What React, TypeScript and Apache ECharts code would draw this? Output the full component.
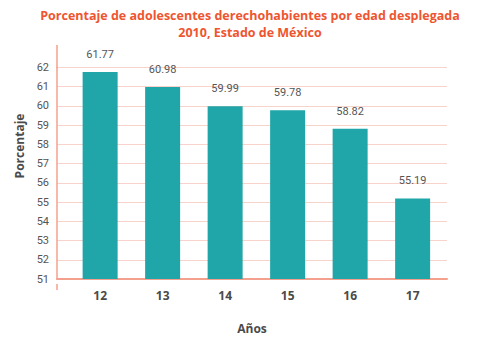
import React, { useEffect, useRef } from "react";
import * as echarts from "echarts";

const ages = [12, 13, 14, 15, 16, 17];
const percentages = [61.77, 60.98, 59.99, 59.78, 58.82, 55.19];
const titleLines = [
  "Porcentaje de adolescentes derechohabientes por edad desplegada",
  "2010, Estado de México",
];
const xName = "Años";
const yName = "Porcentaje";

export default function App() {
  const ref = useRef<HTMLDivElement>(null);
  useEffect(() => {
    if (!ref.current) return;
    const chart = echarts.init(ref.current, null, { renderer: "svg" });
    const axisColor = "#F4A08E";
    const gridColor = "#F8D3CB";
    const textFont = "Roboto";
    const titleStyle = {
      color: "#EE5530",
      fontFamily: "Open Sans",
      fontWeight: "bold",
      fontSize: 12.5,
      lineHeight: 14,
    };
    chart.setOption({
      animation: false,
      backgroundColor: "#ffffff",
      title: titleLines.map((t, i) => ({
        text: t,
        left: 250,
        top: 8 + i * 17,
        padding: 0,
        textAlign: "center",
        textStyle: titleStyle,
      })),
      grid: { left: 57, right: 35, top: 67.5, bottom: 55 },
      xAxis: {
        type: "value",
        min: 11.31,
        max: 17.55,
        splitNumber: 6,
        name: xName,
        nameLocation: "middle",
        nameGap: 43,
        nameTextStyle: {
          color: "#4a4a4a",
          fontFamily: "Open Sans",
          fontWeight: "bold",
          fontSize: 12,
        },
        axisLine: { show: true, lineStyle: { color: axisColor, width: 2 } },
        axisTick: { show: false },
        splitLine: { show: false },
        axisLabel: {
          color: "#4a4a4a",
          fontFamily: "Open Sans",
          fontWeight: "bold",
          fontSize: 12,
          margin: 10,
          formatter: (v: number) => (Number.isInteger(v) ? String(v) : ""),
        },
      },
      yAxis: {
        type: "value",
        min: 51,
        max: 62,
        interval: 1,
        axisLine: { show: true, lineStyle: { color: axisColor, width: 1.5 } },
        axisTick: { show: false },
        splitLine: { show: true, lineStyle: { color: gridColor, width: 1 } },
        axisLabel: {
          color: "#555555",
          fontFamily: textFont,
          fontSize: 11,
          margin: 8,
        },
      },
      graphic: [
        {
          type: "line",
          shape: { x1: 57, y1: 45, x2: 57, y2: 68 },
          style: { stroke: axisColor, lineWidth: 1.5 },
        },
        {
          type: "line",
          shape: { x1: 57, y1: 284, x2: 57, y2: 290 },
          style: { stroke: axisColor, lineWidth: 1.5 },
        },
        {
          type: "text",
          x: 19,
          y: 146,
          rotation: Math.PI / 2,
          style: {
            text: yName,
            fill: "#4a4a4a",
            font: "bold 12px 'Open Sans'",
            align: "center",
            verticalAlign: "middle",
          },
        },
      ],
      series: [
        {
          type: "bar",
          data: ages.map((a, i) => [a, percentages[i]]),
          barWidth: 35,
          itemStyle: { color: "#20A5A8" },
          label: {
            show: true,
            position: "top",
            distance: 12,
            color: "#555555",
            fontFamily: textFont,
            fontSize: 11,
            formatter: (p: any) => p.value[1].toFixed(2),
          },
        },
      ],
    });
    return () => chart.dispose();
  }, []);
  return (
    <div
      ref={ref}
      style={{ position: "fixed", left: 0, top: 0, width: 482, height: 339 }}
    />
  );
}
